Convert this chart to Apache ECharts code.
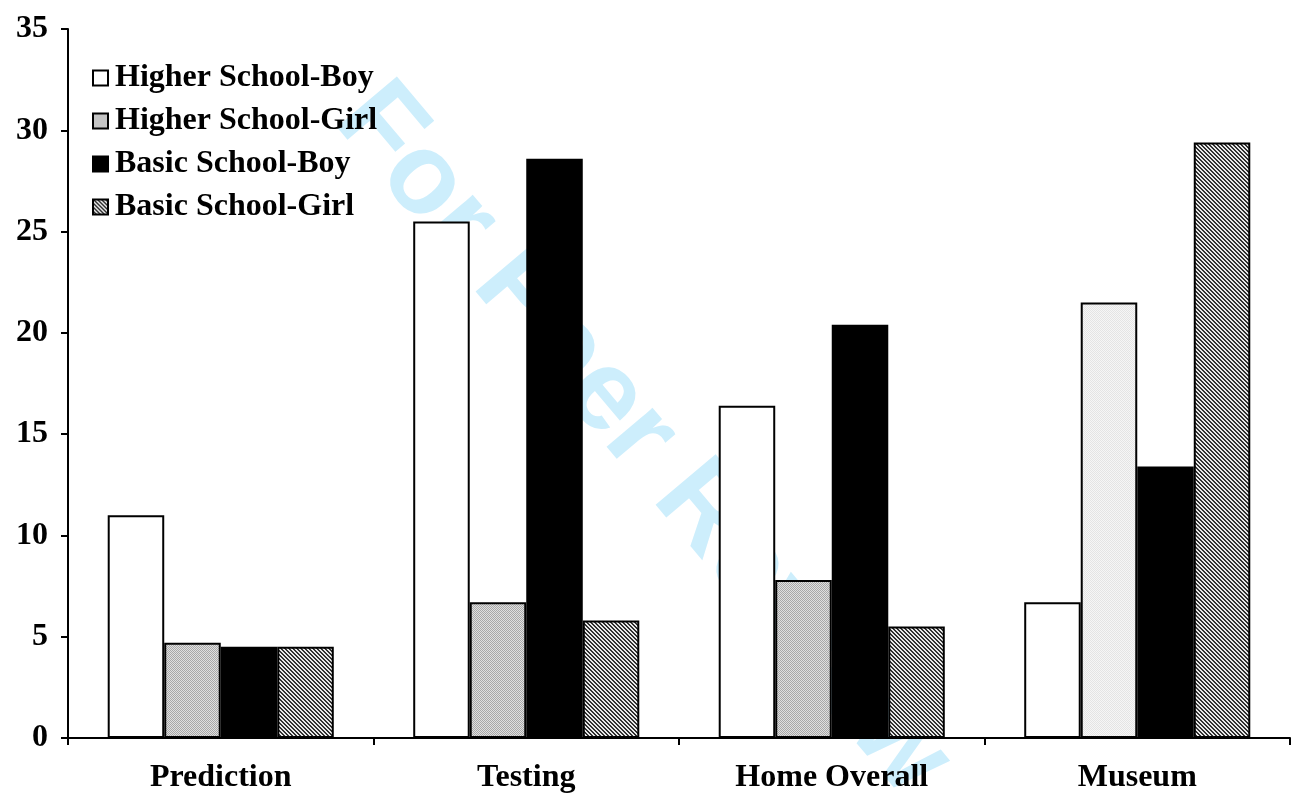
<!DOCTYPE html>
<html>
<head>
<meta charset="utf-8">
<script src="https://cdn.jsdelivr.net/npm/echarts@6/dist/echarts.min.js"></script>
<style>html,body{margin:0;padding:0;background:#fff}#c{width:1298px;height:804px}</style>
</head>
<body>
<div id="c"></div>
<script>
var categories = ['Prediction', 'Testing', 'Home Overall', 'Museum'];
var seriesNames = ['Higher School-Boy', 'Higher School-Girl', 'Basic School-Boy', 'Basic School-Girl'];
var higherBoy = [11.0, 25.5, 16.4, 6.7];
var higherGirl = [4.7, 6.7, 7.8, 21.5];
var basicBoy = [4.5, 28.6, 20.4, 13.4];
var basicGirl = [4.5, 5.8, 5.5, 29.4];
var yTicks = [0, 5, 10, 15, 20, 25, 30, 35];

function makePattern(fn) {
  var c = document.createElement('canvas');
  c.width = 4; c.height = 4;
  var ctx = c.getContext('2d');
  for (var y = 0; y < 4; y++) for (var x = 0; x < 4; x++) {
    ctx.fillStyle = fn(x, y);
    ctx.fillRect(x, y, 1, 1);
  }
  return { image: c, repeat: 'repeat' };
}
var grayDots = makePattern(function (x, y) { return ((x + y) % 2 === 0) ? '#a8a8a8' : '#e0e0e0'; });
var lightDots = makePattern(function (x, y) { return ((x + y) % 2 === 0) ? '#e4e4e4' : '#f6f6f6'; });
var hatch = makePattern(function (x, y) { return ((x - y + 8) % 4 < 2) ? '#303030' : '#e8e8e8'; });

var font = 'Liberation Serif';
var border = { borderColor: '#000', borderWidth: 2 };

var chart = echarts.init(document.getElementById('c'), null, { renderer: 'canvas' });
chart.setOption({
  animation: false,
  backgroundColor: '#fff',
  graphic: [{
    type: 'text',
    z: -10,
    x: 642, y: 440,
    rotation: -0.87,
    style: {
      text: 'For Peer Review',
      font: 'bold 114px "Liberation Sans"',
      fill: '#cdeefc',
      align: 'center',
      verticalAlign: 'middle'
    }
  }],
  grid: { left: 68, right: 8, top: 29, bottom: 66, containLabel: false },
  legend: {
    orient: 'vertical',
    left: 92, top: 62, padding: 0,
    itemWidth: 15, itemHeight: 15,
    itemGap: 11,
    icon: 'rect',
    textStyle: { fontFamily: font, fontWeight: 'bold', fontSize: 32, color: '#000', padding: [0, 0, 0, 2] },
    data: seriesNames
  },
  xAxis: {
    type: 'category',
    data: categories,
    axisLine: { lineStyle: { color: '#000', width: 2 } },
    axisTick: { show: true, length: 7, lineStyle: { color: '#000', width: 2 } },
    axisLabel: { fontFamily: font, fontWeight: 'bold', fontSize: 32, color: '#000', margin: 24 }
  },
  yAxis: {
    type: 'value',
    min: 0, max: 35, interval: 5,
    axisLine: { show: true, lineStyle: { color: '#000', width: 2 } },
    axisTick: { show: true, length: 7, lineStyle: { color: '#000', width: 2 } },
    splitLine: { show: false },
    axisLabel: { fontFamily: font, fontWeight: 'bold', fontSize: 32, color: '#000', margin: 20 }
  },
  series: [
    { name: seriesNames[0], type: 'bar', data: higherBoy, barGap: '0%', barCategoryGap: '26%',
      itemStyle: Object.assign({ color: '#fff' }, border) },
    { name: seriesNames[1], type: 'bar', barGap: '0%', barCategoryGap: '26%',
      data: higherGirl.map(function (v, i) { return i === 3 ? { value: v, itemStyle: { color: lightDots } } : v; }),
      itemStyle: Object.assign({ color: grayDots }, border) },
    { name: seriesNames[2], type: 'bar', data: basicBoy, barGap: '0%', barCategoryGap: '26%',
      itemStyle: Object.assign({ color: '#000' }, border) },
    { name: seriesNames[3], type: 'bar', data: basicGirl, barGap: '0%', barCategoryGap: '26%',
      itemStyle: Object.assign({ color: hatch }, border) }
  ]
});
</script>
</body>
</html>
